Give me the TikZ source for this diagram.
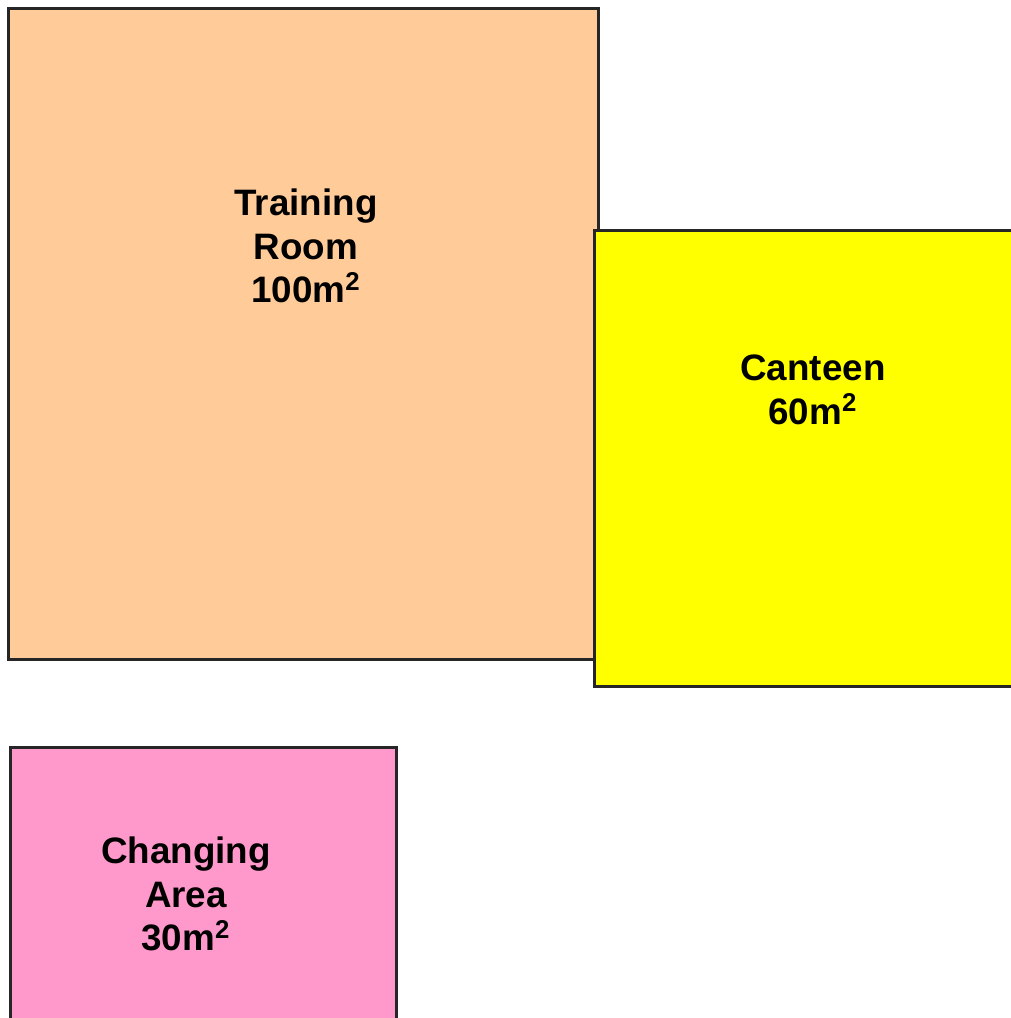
\documentclass[tikz,border=0pt]{standalone}
\usepackage{fontspec}
\setmainfont{Liberation Sans}
\definecolor{trainc}{HTML}{FFCC99}
\definecolor{cantc}{HTML}{FFFF00}
\definecolor{changc}{HTML}{FF99CC}
\begin{document}
\begin{tikzpicture}[x=0.5pt,y=-0.5pt,
  room/.style={draw=black!85, line width=1.5pt},
  lbl/.style={font=\fontsize{18.4}{21.8}\selectfont\bfseries, align=center, text=black}]
\useasboundingbox (0,0) rectangle (1011,1018);
\begin{scope}
\clip (0,0) rectangle (1011,1018);
\filldraw[room, fill=trainc] (8,8) rectangle (598,659);
\filldraw[room, fill=cantc] (594,230) rectangle (1030,686);
\filldraw[room, fill=changc] (10,747) rectangle (396,1040);
\end{scope}
\node[lbl] (training) at (306,246) {Training\\Room\\100m\textsuperscript{2}};
\node[lbl] (canteen) at (813,390) {Canteen\\60m\textsuperscript{2}};
\node[lbl] (changing) at (186,894) {Changing\\Area\\30m\textsuperscript{2}};
\end{tikzpicture}
\end{document}
